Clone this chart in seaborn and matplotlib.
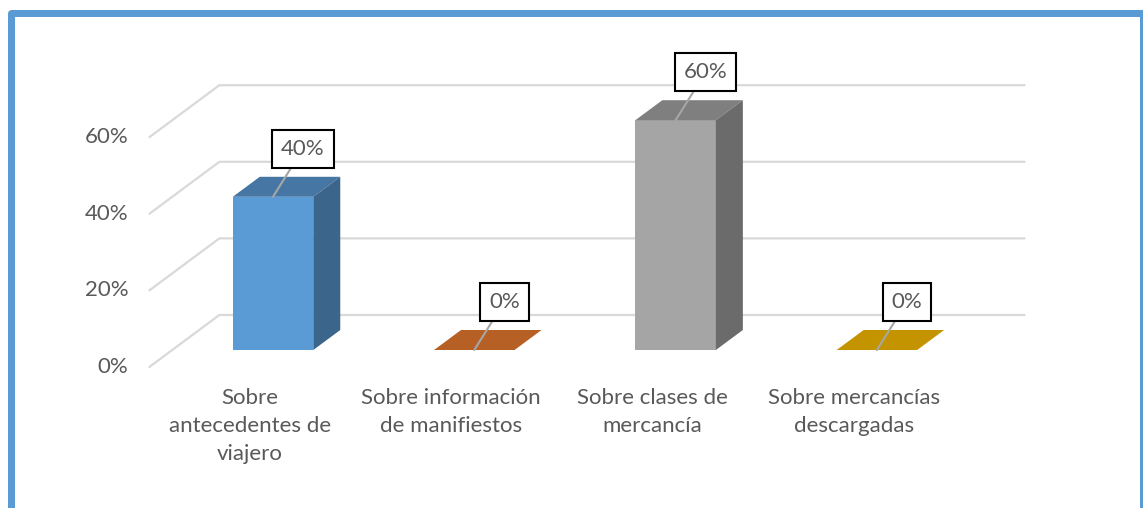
import matplotlib as mpl
mpl.use("Agg")
import matplotlib.pyplot as plt
from matplotlib.colors import to_rgb
from matplotlib.patches import Polygon, Rectangle
import seaborn as sns

categories = ["Sobre\nantecedentes de\nviajero", "Sobre información\nde manifiestos",
              "Sobre clases de\nmercancía", "Sobre mercancías\ndescargadas"]
values = [40, 0, 60, 0]
y_ticks = [0, 20, 40, 60]
tick_labels = ["0%", "20%", "40%", "60%"]
colors = ["#5b9bd5", "#ed7d31", "#a5a5a5", "#ffc000"]

W, H = 1143, 508
TEXT = "#595959"
FS = 16

sns.set_style("white")
plt.rcParams["font.family"] = ["Lato", "DejaVu Sans"]

fig = plt.figure(figsize=(W / 100, H / 100), dpi=100)
ax = fig.add_axes([100 / W, 78 / H, 1000 / W, 400 / H])
sns.barplot(x=categories, y=values, hue=categories, palette=colors, width=0.4,
            saturation=1, legend=False, linewidth=0, ax=ax, zorder=2)
bars = list(ax.patches)
ax.set_xlim(-173 / 201.3, 827 / 201.3)
ax.set_ylim(-80 / 3.83, 320 / 3.83)
ax.axis("off")

# pixel -> data helpers for the fake 3d depth
sx = (ax.get_xlim()[1] - ax.get_xlim()[0]) / 1000
sy = (ax.get_ylim()[1] - ax.get_ylim()[0]) / 400


def shift(x, y, dx, dy):
    return x + dx * sx, y + dy * sy


def shade(c, f):
    return tuple(v * f for v in to_rgb(c))


FRONT = (-23, -17)   # axis plane relative to bar front
BACK = (47, 35)      # back wall
DEPTH = (27, 20)     # bar depth

# walls: side diagonals + back gridlines
left, right = -0.5, len(categories) - 0.5
for t, lab in zip(y_ticks, tick_labels):
    x0, y0 = shift(left, t, *FRONT)
    x1, y1 = shift(left, t, *BACK)
    x2, _ = shift(right, t, *BACK)
    ax.plot([x0, x1, x2], [y0, y1, y1], color="#d9d9d9", lw=1.6, zorder=0)
    tx, ty = shift(x0, y0, -21, 0)
    ax.text(tx, ty, lab, ha="right", va="center", fontsize=FS, color=TEXT)

# category labels along the front edge
for i, lab in enumerate(categories):
    lx, ly = shift(i, 0, FRONT[0], FRONT[1] - 21)
    ax.text(lx, ly, lab, ha="center", va="top", fontsize=FS, color=TEXT,
            linespacing=1.5)

# top and side faces
for bar, c in zip(bars, colors):
    x0 = bar.get_x()
    x1 = x0 + bar.get_width()
    h = bar.get_height()
    top = [(x0, h), (x1, h), shift(x1, h, *DEPTH), shift(x0, h, *DEPTH)]
    ax.add_patch(Polygon(top, closed=True, fc=shade(c, 0.77), lw=0, zorder=2))
    if h > 0:
        side = [(x1, 0), (x1, h), shift(x1, h, *DEPTH), shift(x1, 0, *DEPTH)]
        ax.add_patch(Polygon(side, closed=True, fc=shade(c, 0.65), lw=0, zorder=2))

# data labels with leader lines
for bar, v in zip(bars, values):
    cx = bar.get_x() + bar.get_width() / 2
    ax.annotate(f"{v}%", xy=(cx, v), xytext=(30, 48), textcoords="offset pixels",
                ha="center", va="center", fontsize=FS, color=TEXT, zorder=4,
                bbox=dict(boxstyle="square,pad=0.4", fc="white", ec="black", lw=1.5),
                arrowprops=dict(arrowstyle="-", color="#a6a6a6", lw=1.5,
                                shrinkA=0, shrinkB=0))

# blue frame around the chart
fig.add_artist(Rectangle((10.5 / W, -0.05), 1132 / W, 1 - 13.5 / H + 0.05,
                         transform=fig.transFigure, fill=False, ec="#5b9bd5",
                         lw=7 * 0.72, joinstyle="round"))

fig.savefig("out.png", dpi=100)
plt.close()
